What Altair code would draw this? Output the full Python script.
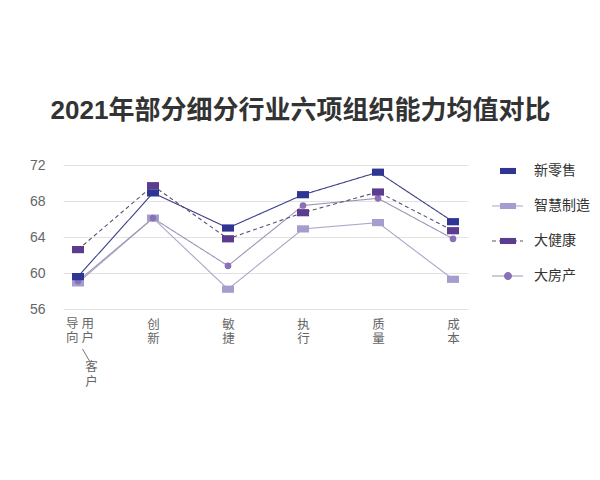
import altair as alt
import pandas as pd

# ---- data ----
categories = ["客户/用户导向", "创新", "敏捷", "执行", "质量", "成本"]
series = ["新零售", "智慧制造", "大健康", "大房产"]
xinlingshou = [59.6, 68.9, 65.0, 68.7, 71.2, 65.7]
zhihui_zhizao = [58.9, 66.1, 58.2, 64.9, 65.6, 59.3]
da_jiankang = [62.6, 69.7, 63.8, 66.7, 69.0, 64.7]
da_fangchan = [59.1, 66.1, 60.8, 67.5, 68.3, 63.8]
y_ticks = [56, 60, 64, 68, 72]
title_text = "2021年部分细分行业六项组织能力均值对比"
first_label_top = "导  用\n向  户"
first_label_sub = "客\n户"

values = {"新零售": xinlingshou, "智慧制造": zhihui_zhizao,
          "大健康": da_jiankang, "大房产": da_fangchan}
rows = [{"category": c, "series": s, "value": v}
        for s in series for c, v in zip(categories, values[s])]
df = pd.DataFrame(rows)

# ---- styles ----
FONT = "Liberation Sans, Noto Sans CJK SC, sans-serif"
CJK = "Noto Sans CJK SC, sans-serif"
marker_colors = {"新零售": "#2f3592", "智慧制造": "#a49ece", "大健康": "#5b3c8e", "大房产": "#8a70b5"}
line_colors = {"新零售": "#3b3e86", "智慧制造": "#aaa6c8", "大健康": "#5a5072", "大房产": "#9d95b8"}
dashes = {"新零售": [1, 0], "智慧制造": [1, 0], "大健康": [4, 3], "大房产": [1, 0]}
RECT = "M-1,-0.6H1V0.6H-1Z"
RECT_LEG = "M-1,-0.38H1V0.38H-1Z"
CIRC_LEG = "M0.5,0A0.5,0.5 0 1,1 -0.5,0A0.5,0.5 0 1,1 0.5,0Z"

x_enc = alt.X(
    "category:N",
    sort=categories,
    scale=alt.Scale(type="point", domain=categories, padding=0.2),
    axis=alt.Axis(
        title=None, domain=False, ticks=False, grid=False, labelAngle=0,
        labelExpr="datum.value == '客户/用户导向' ? '' : split(datum.value, '')",
        labelFont=CJK, labelFontSize=12.5, labelLineHeight=14, labelColor="#666",
        labelPadding=9, labelBaseline="top",
    ),
)
y_enc = alt.Y(
    "value:Q",
    scale=alt.Scale(domain=[56, 72], nice=False, zero=False),
    axis=alt.Axis(
        title=None, values=y_ticks, domain=False, ticks=False,
        labelFont=FONT, labelFontSize=14, labelColor="#666", labelPadding=18,
        gridColor="#e2e2e2", gridWidth=1,
    ),
)

base = alt.Chart(df)
line_order = ["智慧制造", "大房产", "大健康", "新零售"]
layers = []
for s in line_order:
    layers.append(
        base.transform_filter(alt.datum.series == s)
        .mark_line(color=line_colors[s], strokeWidth=1.1, strokeDash=dashes[s])
        .encode(x=x_enc, y=y_enc)
    )
for s in line_order:
    if s == "大房产":
        mk = dict(filled=True, shape="circle", size=45, color=marker_colors[s], opacity=1)
    else:
        mk = dict(filled=True, shape=RECT, size=144, color=marker_colors[s], opacity=1)
    layers.append(
        base.transform_filter(alt.datum.series == s).mark_point(**mk).encode(x=x_enc, y=y_enc)
    )

# first category label, drawn as text so its two columns sit as in the reference
first_df = pd.DataFrame({"category": [categories[0]], "top": [first_label_top], "sub": [first_label_sub]})
fb = alt.Chart(first_df)
layers.append(
    fb.mark_text(font=CJK, fontSize=12.5, lineHeight=14, color="#666", baseline="top",
                 align="center", dx=2, lineBreak="\n")
    .encode(x=x_enc, y=alt.value(153), text="top:N")
)
layers.append(
    fb.mark_text(font=CJK, fontSize=12.5, lineHeight=14.5, color="#666", baseline="top",
                 align="center", dx=13.5, lineBreak="\n")
    .encode(x=x_enc, y=alt.value(196), text="sub:N")
)
layers.append(
    fb.mark_rule(color="#777", strokeWidth=1, xOffset=4.5, x2Offset=11.5)
    .encode(x=x_enc, x2="category:N", y=alt.value(184), y2=alt.value(196))
)

main = alt.layer(*layers)

# ---- custom legend ----
leg_df = pd.DataFrame({"series": series})
leg = alt.Chart(leg_df)
leg_y = alt.Y("series:N", scale=alt.Scale(type="point", domain=series, range=[6, 111], padding=0), axis=None)
leg_lines = (
    leg.transform_filter(alt.datum.series != "新零售")
    .mark_rule(strokeWidth=1.1)
    .encode(
        x=alt.value(429), x2=alt.value(460), y=leg_y,
        stroke=alt.Stroke("series:N", scale=alt.Scale(domain=series, range=[line_colors[s] for s in series]), legend=None),
        strokeDash=alt.StrokeDash("series:N", scale=alt.Scale(domain=series, range=[dashes[s] for s in series]), legend=None),
    )
)
leg_syms = leg.mark_point(filled=True, opacity=1, size=256).encode(
    x=alt.value(445), y=leg_y,
    fill=alt.Fill("series:N", scale=alt.Scale(domain=series, range=[marker_colors[s] for s in series]), legend=None),
    shape=alt.Shape("series:N", scale=alt.Scale(domain=series, range=[RECT_LEG, RECT_LEG, RECT_LEG, CIRC_LEG]), legend=None),
)
leg_text = leg.mark_text(align="left", baseline="middle", font=CJK, fontSize=14, color="#333").encode(
    x=alt.value(471), y=leg_y, text="series:N"
)
legend = alt.layer(leg_lines, leg_syms, leg_text)

chart = (
    alt.layer(main, legend)
    .resolve_scale(y="independent")
    .properties(
        width=405, height=144,
        padding={"left": 55, "top": 157, "right": 124, "bottom": 163},
        autosize=alt.AutoSizeParams(type="none"),
        background="white",
        title=alt.TitleParams(
            title_text, font=FONT, fontSize=26, fontWeight="bold", color="#333",
            anchor="middle", dx=35, offset=34,
        ),
    )
    .configure_view(stroke=None)
)

chart.save("out.html", embed_options={"renderer": "svg", "actions": False})
